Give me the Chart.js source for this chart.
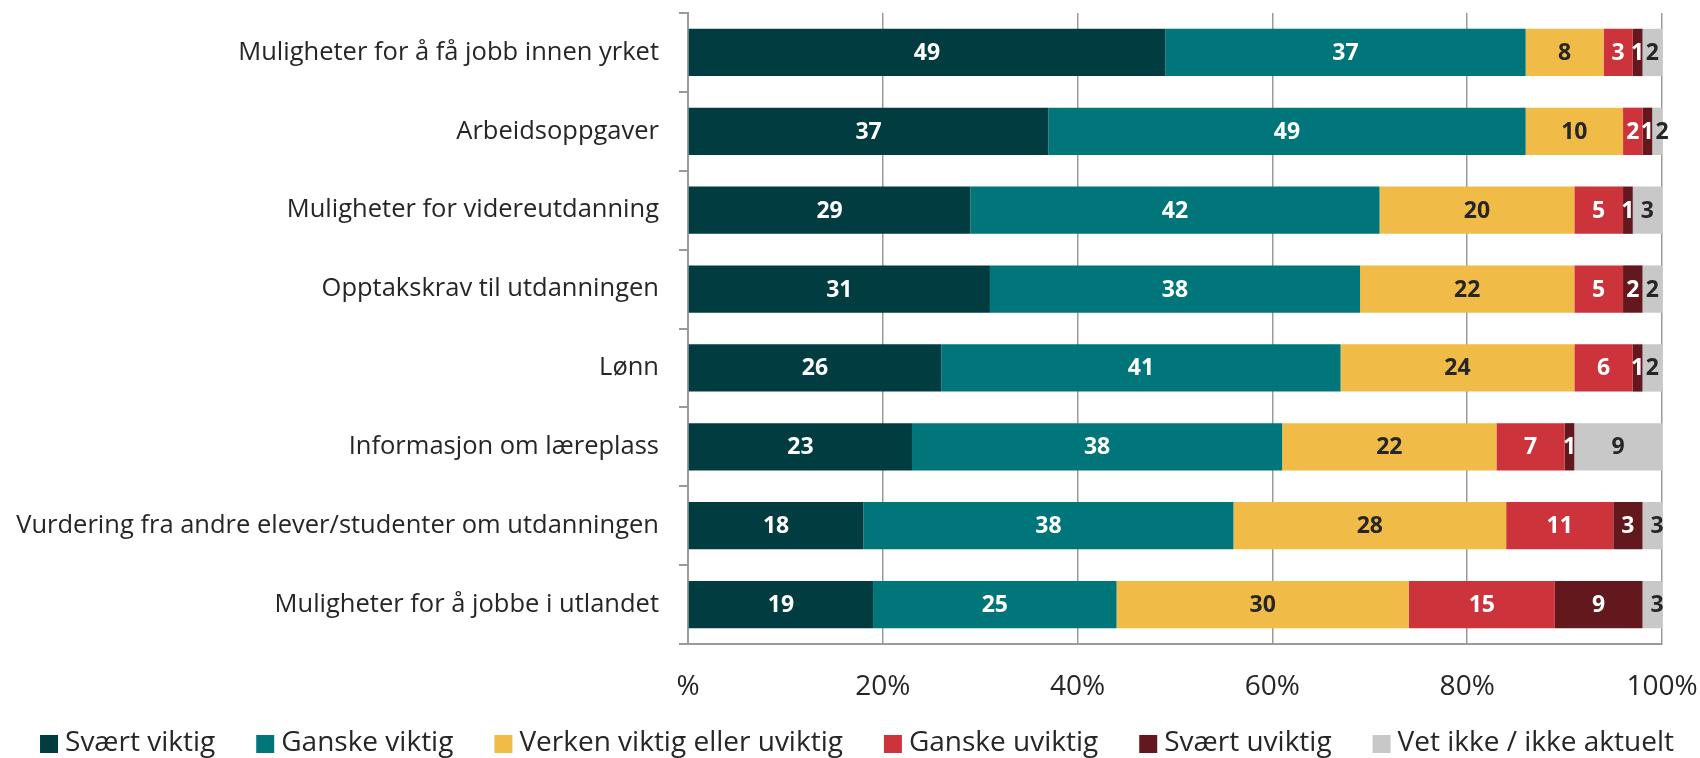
<!DOCTYPE html>
<html>
<head>
<meta charset="utf-8">
<script src="https://cdn.jsdelivr.net/npm/chart.js@4.4.1/dist/chart.umd.min.js"></script>
<style>
html,body{margin:0;padding:0;background:#fff;}
#wrap{width:1700px;height:758px;position:relative;}
</style>
</head>
<body>
<div id="wrap"><canvas id="c" width="1700" height="758"></canvas></div>
<script>
const categories = [
  "Muligheter for å få jobb innen yrket",
  "Arbeidsoppgaver",
  "Muligheter for videreutdanning",
  "Opptakskrav til utdanningen",
  "Lønn",
  "Informasjon om læreplass",
  "Vurdering fra andre elever/studenter om utdanningen",
  "Muligheter for å jobbe i utlandet"
];
const seriesNames = ["Svært viktig","Ganske viktig","Verken viktig eller uviktig","Ganske uviktig","Svært uviktig","Vet ikke / ikke aktuelt"];
const sveertViktig   = [49, 37, 29, 31, 26, 23, 18, 19];
const ganskeViktig   = [37, 49, 42, 38, 41, 38, 38, 25];
const verken         = [ 8, 10, 20, 22, 24, 22, 28, 30];
const ganskeUviktig  = [ 3,  2,  5,  5,  6,  7, 11, 15];
const svaertUviktig  = [ 1,  1,  1,  2,  1,  1,  3,  9];
const vetIkke        = [ 2,  2,  3,  2,  2,  9,  3,  3];
const xTicks = [0, 20, 40, 60, 80, 100];

const colors = ["#003c40","#00767a","#f0bc47","#cc333b","#63181e","#c8c8c8"];
const labelColors = ["#ffffff","#ffffff","#262626","#ffffff","#ffffff","#262626"];
const seriesData = [sveertViktig, ganskeViktig, verken, ganskeUviktig, svaertUviktig, vetIkke];

const FONT = "'Open Sans', sans-serif";

const dataLabels = {
  id: 'dataLabels',
  afterDatasetsDraw(chart) {
    const ctx = chart.ctx;
    ctx.save();
    ctx.font = "bold 23px " + FONT;
    ctx.textAlign = 'center';
    ctx.textBaseline = 'middle';
    chart.data.datasets.forEach((ds, i) => {
      const meta = chart.getDatasetMeta(i);
      meta.data.forEach((bar, j) => {
        const v = ds.data[j];
        const cx = (bar.x + bar.base) / 2;
        ctx.fillStyle = labelColors[i];
        ctx.fillText(String(v), cx, bar.y + 1);
      });
    });
    ctx.restore();
  }
};

const customLegend = {
  id: 'customLegend',
  afterDraw(chart) {
    const ctx = chart.ctx;
    ctx.save();
    ctx.font = "28px " + FONT;
    ctx.textBaseline = 'middle';
    ctx.textAlign = 'left';
    const box = 18, gap = 7, itemGap = 41;
    const widths = seriesNames.map(n => ctx.measureText(n).width);
    let total = widths.reduce((a, b) => a + b, 0) + seriesNames.length * (box + gap) + (seriesNames.length - 1) * itemGap;
    let x = 857 - total / 2;
    const yMid = 743;
    seriesNames.forEach((n, i) => {
      ctx.fillStyle = colors[i];
      ctx.fillRect(x, yMid - box / 2 + 1, box, box);
      ctx.fillStyle = '#262626';
      ctx.fillText(n, x + box + gap, yMid);
      x += box + gap + widths[i] + itemGap;
    });
    ctx.restore();
  }
};

function zeroPad(scale) {
  scale.paddingTop = 0; scale.paddingBottom = 0;
  scale.paddingLeft = 0; scale.paddingRight = 0;
}

new Chart(document.getElementById('c'), {
  type: 'bar',
  data: {
    labels: categories,
    datasets: seriesNames.map((n, i) => ({
      label: n,
      data: seriesData[i],
      backgroundColor: colors[i],
      borderWidth: 0,
      categoryPercentage: 1.0,
      barPercentage: 0.6
    }))
  },
  options: {
    indexAxis: 'y',
    responsive: false,
    animation: false,
    devicePixelRatio: 1,
    layout: { padding: { top: 13, right: 38, left: 0, bottom: 0 } },
    plugins: { legend: { display: false }, tooltip: { enabled: false } },
    scales: {
      x: {
        stacked: true,
        min: 0, max: 100,
        afterBuildTicks(scale) { scale.ticks = xTicks.map(v => ({ value: v })); },
        afterFit(scale) { scale.height = 114; zeroPad(scale); },
        ticks: {
          callback: v => v === 0 ? '%' : v + '%',
          color: '#262626',
          font: { family: FONT, size: 28 },
          padding: 26,
          maxRotation: 0
        },
        grid: { color: '#9a9a9a', lineWidth: 1.5, drawTicks: false },
        border: { display: true, color: '#9a9a9a', width: 2 }
      },
      y: {
        stacked: true,
        afterFit(scale) { scale.width = 688; zeroPad(scale); },
        ticks: {
          color: '#262626',
          font: { family: FONT, size: 25.5 },
          padding: 20,
          autoSkip: false
        },
        grid: { drawOnChartArea: false, drawTicks: true, tickLength: 9, offset: true, color: '#9a9a9a', lineWidth: 2 },
        border: { display: true, color: '#9a9a9a', width: 2 }
      }
    }
  },
  plugins: [dataLabels, customLegend]
});
</script>
</body>
</html>
